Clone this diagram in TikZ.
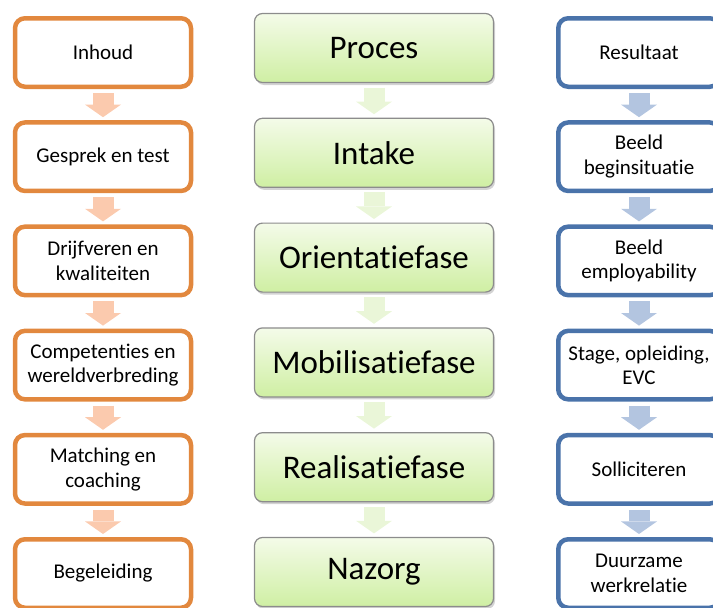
\documentclass[tikz,border=0pt]{standalone}
\usepackage{fontspec}
\setmainfont[Ligatures=NoCommon]{Carlito}
\usetikzlibrary{arrows.meta,shadows}
\definecolor{inhoudorange}{RGB}{226,136,62}
\definecolor{inhoudpeach}{RGB}{251,202,174}
\definecolor{resultblue}{RGB}{74,115,170}
\definecolor{resultlight}{RGB}{179,197,224}
\definecolor{procestop}{RGB}{244,251,233}
\definecolor{procesbottom}{RGB}{207,239,163}
\definecolor{procesborder}{RGB}{140,140,140}
\definecolor{procesarrow}{RGB}{234,246,216}

\tikzset{
  sidebox/.style={draw, line width=4.5pt, rounded corners=10pt, fill=white,
    minimum width=176pt, minimum height=68.5pt, inner sep=0pt, outer sep=2.25pt,
    align=center, font=\fontsize{21}{24.5}\selectfont},
  inhoudbox/.style={sidebox, draw=inhoudorange},
  resultbox/.style={sidebox, draw=resultblue, minimum width=161.5pt},
  procesbox/.style={draw=procesborder, line width=1.2pt, rounded corners=8pt,
    top color=procestop, bottom color=procesbottom,
    minimum width=239pt, minimum height=69pt, inner sep=0pt,
    drop shadow={shadow xshift=1.5pt, shadow yshift=-2.5pt, opacity=0.35},
    font=\fontsize{33}{40}\selectfont},
  blockarrow/.style={line width=21pt, -{Triangle[width=36pt,length=12.6pt,line width=0pt]},
    shorten <=4pt, shorten >=3pt}
}

\begin{document}
\begin{tikzpicture}[x=1pt, y=-1pt]
\useasboundingbox (0,0) rectangle (713,608);
\clip (0,0) rectangle (713,608);

% Inhoud column
\node[inhoudbox] (i1) at (103,52.5) {Inhoud};
\node[inhoudbox] (i2) at (103,156.7) {Gesprek en test};
\node[inhoudbox] (i3) at (103,260.9) {Drijfveren en\\kwaliteiten};
\node[inhoudbox] (i4) at (103,365.1) {Competenties en\\wereldverbreding};
\node[inhoudbox] (i5) at (103,469.3) {Matching en\\coaching};
\node[inhoudbox] (i6) at (103,573.5) {Begeleiding};

% Proces column
\node[procesbox] (p1) at (374,48) {Proces};
\node[procesbox] (p2) at (374,152.8) {Intake};
\node[procesbox] (p3) at (374,257.6) {Orientatiefase};
\node[procesbox] (p4) at (374,362.4) {Mobilisatiefase};
\node[procesbox] (p5) at (374,467.2) {Realisatiefase};
\node[procesbox] (p6) at (374,572) {Nazorg};

% Resultaat column
\node[resultbox] (r1) at (639,52.5) {Resultaat};
\node[resultbox] (r2) at (639,156.7) {Beeld\\beginsituatie};
\node[resultbox] (r3) at (639,260.9) {Beeld\\employability};
\node[resultbox] (r4) at (639,365.1) {Stage, opleiding,\\EVC};
\node[resultbox] (r5) at (639,469.3) {Solliciteren};
\node[resultbox] (r6) at (639,573.5) {Duurzame\\werkrelatie};

% Arrows
\draw[blockarrow, inhoudpeach] (i1) -- (i2);
\draw[blockarrow, inhoudpeach] (i2) -- (i3);
\draw[blockarrow, inhoudpeach] (i3) -- (i4);
\draw[blockarrow, inhoudpeach] (i4) -- (i5);
\draw[blockarrow, inhoudpeach] (i5) -- (i6);

\draw[blockarrow, procesarrow, shorten <=4.5pt, shorten >=3.5pt] (p1) -- (p2);
\draw[blockarrow, procesarrow, shorten <=4.5pt, shorten >=3.5pt] (p2) -- (p3);
\draw[blockarrow, procesarrow, shorten <=4.5pt, shorten >=3.5pt] (p3) -- (p4);
\draw[blockarrow, procesarrow, shorten <=4.5pt, shorten >=3.5pt] (p4) -- (p5);
\draw[blockarrow, procesarrow, shorten <=4.5pt, shorten >=3.5pt] (p5) -- (p6);

\draw[blockarrow, resultlight] (r1) -- (r2);
\draw[blockarrow, resultlight] (r2) -- (r3);
\draw[blockarrow, resultlight] (r3) -- (r4);
\draw[blockarrow, resultlight] (r4) -- (r5);
\draw[blockarrow, resultlight] (r5) -- (r6);
\end{tikzpicture}
\end{document}
